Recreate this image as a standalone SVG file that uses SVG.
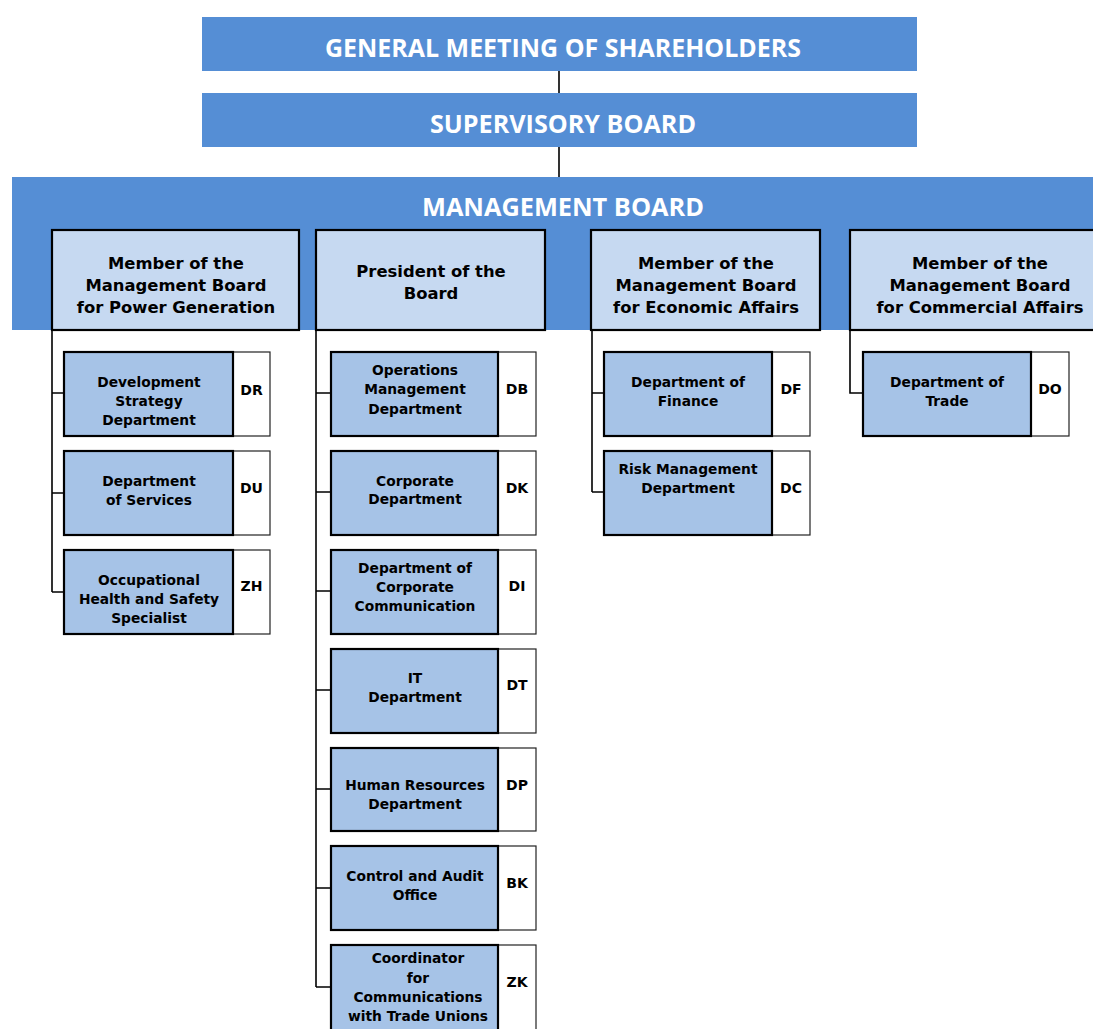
<svg xmlns="http://www.w3.org/2000/svg" width="1093" height="1029" viewBox="0 0 1093 1029">
<style>
.top{fill:#558ed5}
.title{font-family:"Open Sans","Liberation Sans",sans-serif;font-weight:bold;fill:#fff;font-size:25px;text-anchor:middle}
.mem{fill:#c6d9f1;stroke:#000;stroke-width:2.2}
.sub{fill:#a6c3e7;stroke:#000;stroke-width:2.2}
.code{fill:#fff;stroke:#222;stroke-width:1.2}
.mt{font-family:"DejaVu Sans",Verdana,sans-serif;font-weight:bold;font-size:16.4px;fill:#000;text-anchor:middle}
.st{font-family:"DejaVu Sans",Verdana,sans-serif;font-weight:bold;font-size:13.8px;fill:#000;text-anchor:middle}
.ct{font-family:"DejaVu Sans",Verdana,sans-serif;font-weight:bold;font-size:14px;fill:#000;text-anchor:middle}
.ln{fill:none;stroke:#000;stroke-width:1.6}
</style>
<rect width="1093" height="1029" fill="#fff"/>
<g id="connectors">
<path class="ln" d="M559 71V93M559 147V177"/>
<path class="ln" d="M52 330V592M52 393H64M52 493H64M52 592H64"/>
<path class="ln" d="M316 330V987M316 393H331M316 492H331M316 591H331M316 690H331M316 789H331M316 888H331M316 987H331"/>
<path class="ln" d="M592 330V492M592 393H604M592 492H604"/>
<path class="ln" d="M850 330V393H863"/>
</g>
<g id="gms">
<rect class="top" x="202" y="17" width="715" height="54"/>
<text class="title" x="563" y="57" textLength="476" lengthAdjust="spacingAndGlyphs">GENERAL MEETING OF SHAREHOLDERS</text>
</g>
<g id="supervisory">
<rect class="top" x="202" y="93" width="715" height="54"/>
<text class="title" x="563" y="133" textLength="266" lengthAdjust="spacingAndGlyphs">SUPERVISORY BOARD</text>
</g>
<g id="management">
<rect class="top" x="12" y="177" width="1090" height="153"/>
<text class="title" x="563" y="216" textLength="282" lengthAdjust="spacingAndGlyphs">MANAGEMENT BOARD</text>
</g>
<g id="m-power">
<rect class="mem" x="52" y="230" width="247" height="100"/>
<text class="mt" x="176" y="269">Member of the</text>
<text class="mt" x="176" y="291">Management Board</text>
<text class="mt" x="176" y="313">for Power Generation</text>
</g>
<g id="president">
<rect class="mem" x="316" y="230" width="229" height="100"/>
<text class="mt" x="431" y="277">President of the</text>
<text class="mt" x="431" y="299">Board</text>
</g>
<g id="m-economic">
<rect class="mem" x="591" y="230" width="229" height="100"/>
<text class="mt" x="706" y="269">Member of the</text>
<text class="mt" x="706" y="291">Management Board</text>
<text class="mt" x="706" y="313">for Economic Affairs</text>
</g>
<g id="m-commercial">
<rect class="mem" x="850" y="230" width="260" height="100"/>
<text class="mt" x="980" y="269">Member of the</text>
<text class="mt" x="980" y="291">Management Board</text>
<text class="mt" x="980" y="313">for Commercial Affairs</text>
</g>
<g id="dr">
<rect class="code" x="233" y="352" width="37" height="84"/>
<rect class="sub" x="64" y="352" width="169" height="84"/>
<text class="st" x="149" y="387">Development</text>
<text class="st" x="149" y="406">Strategy</text>
<text class="st" x="149" y="425">Department</text>
<text class="ct" x="251.5" y="395">DR</text>
</g>
<g id="du">
<rect class="code" x="233" y="451" width="37" height="84"/>
<rect class="sub" x="64" y="451" width="169" height="84"/>
<text class="st" x="149" y="486">Department</text>
<text class="st" x="149" y="505">of Services</text>
<text class="ct" x="251.5" y="493">DU</text>
</g>
<g id="zh">
<rect class="code" x="233" y="550" width="37" height="84"/>
<rect class="sub" x="64" y="550" width="169" height="84"/>
<text class="st" x="149" y="585">Occupational</text>
<text class="st" x="149" y="604">Health and Safety</text>
<text class="st" x="149" y="623">Specialist</text>
<text class="ct" x="251.5" y="591">ZH</text>
</g>
<g id="db">
<rect class="code" x="498" y="352" width="38" height="84"/>
<rect class="sub" x="331" y="352" width="167" height="84"/>
<text class="st" x="415" y="375">Operations</text>
<text class="st" x="415" y="394">Management</text>
<text class="st" x="415" y="414">Department</text>
<text class="ct" x="517" y="394">DB</text>
</g>
<g id="dk">
<rect class="code" x="498" y="451" width="38" height="84"/>
<rect class="sub" x="331" y="451" width="167" height="84"/>
<text class="st" x="415" y="486">Corporate</text>
<text class="st" x="415" y="504">Department</text>
<text class="ct" x="517" y="493">DK</text>
</g>
<g id="di">
<rect class="code" x="498" y="550" width="38" height="84"/>
<rect class="sub" x="331" y="550" width="167" height="84"/>
<text class="st" x="415" y="573">Department of</text>
<text class="st" x="415" y="592">Corporate</text>
<text class="st" x="415" y="611">Communication</text>
<text class="ct" x="517" y="591">DI</text>
</g>
<g id="dt">
<rect class="code" x="498" y="649" width="38" height="84"/>
<rect class="sub" x="331" y="649" width="167" height="84"/>
<text class="st" x="415" y="683">IT</text>
<text class="st" x="415" y="702">Department</text>
<text class="ct" x="517" y="690">DT</text>
</g>
<g id="dp">
<rect class="code" x="498" y="748" width="38" height="83"/>
<rect class="sub" x="331" y="748" width="167" height="83"/>
<text class="st" x="415" y="790">Human Resources</text>
<text class="st" x="415" y="809">Department</text>
<text class="ct" x="517" y="790">DP</text>
</g>
<g id="bk">
<rect class="code" x="498" y="846" width="38" height="84"/>
<rect class="sub" x="331" y="846" width="167" height="84"/>
<text class="st" x="415" y="881">Control and Audit</text>
<text class="st" x="415" y="900">Office</text>
<text class="ct" x="517" y="888">BK</text>
</g>
<g id="zk">
<rect class="code" x="498" y="945" width="38" height="90"/>
<rect class="sub" x="331" y="945" width="167" height="90"/>
<text class="st" x="418" y="963">Coordinator</text>
<text class="st" x="418" y="983">for</text>
<text class="st" x="418" y="1002">Communications</text>
<text class="st" x="418" y="1021">with Trade Unions</text>
<text class="ct" x="517" y="987">ZK</text>
</g>
<g id="df">
<rect class="code" x="772" y="352" width="38" height="84"/>
<rect class="sub" x="604" y="352" width="168" height="84"/>
<text class="st" x="688" y="387">Department of</text>
<text class="st" x="688" y="406">Finance</text>
<text class="ct" x="791" y="394">DF</text>
</g>
<g id="dc">
<rect class="code" x="772" y="451" width="38" height="84"/>
<rect class="sub" x="604" y="451" width="168" height="84"/>
<text class="st" x="688" y="474">Risk Management</text>
<text class="st" x="688" y="493">Department</text>
<text class="ct" x="791" y="493">DC</text>
</g>
<g id="do">
<rect class="code" x="1031" y="352" width="38" height="84"/>
<rect class="sub" x="863" y="352" width="168" height="84"/>
<text class="st" x="947" y="387">Department of</text>
<text class="st" x="947" y="406">Trade</text>
<text class="ct" x="1050" y="394">DO</text>
</g>
</svg>
